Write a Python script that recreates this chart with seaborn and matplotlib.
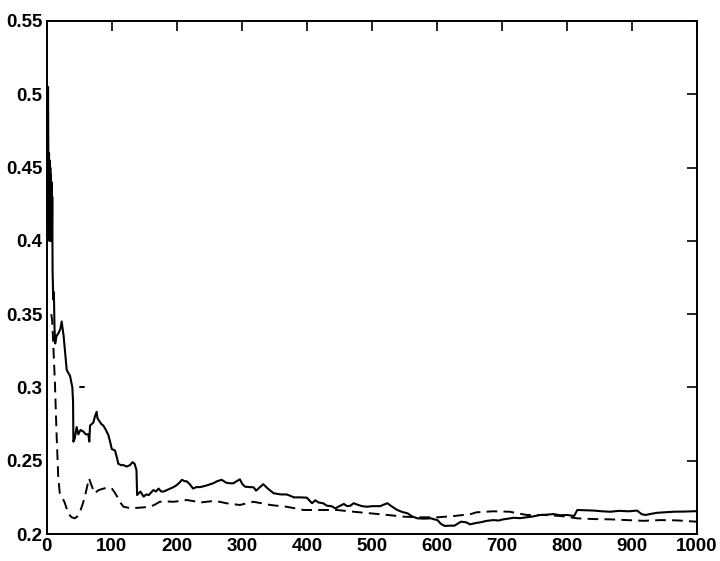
import numpy as np
import pandas as pd
import matplotlib
matplotlib.use("Agg")
import matplotlib.pyplot as plt
import seaborn as sns

# ---- data ----
solid_x = [1, 1.5, 2, 2.5, 3, 3.5, 4, 4.5, 5, 5.5, 6, 6.5, 7, 7.5, 8, 8.5, 9, 10, 11, 12, 13, 15,
           18, 21, 23, 26, 28, 30.7, 33, 35.8, 38,
           39.4, 40.5, 41, 43, 46, 48.6, 52, 56, 60, 64, 65.5, 66.6, 71.7, 74, 76.8, 78, 80.9, 84,
           87, 91, 94.8, 98, 100, 105, 108, 110, 114, 118, 123, 128, 132, 135, 138, 139, 144, 149,
           153, 157, 164, 168, 172, 176, 180, 185, 190, 195, 200, 204, 208, 212, 215, 220, 225,
           230, 236, 245, 256, 262, 269, 276, 282, 287, 292, 297, 301, 305, 312, 318, 322, 328,
           333, 340, 349, 360, 369, 375, 380, 390, 400, 408, 413, 418, 425, 431, 438, 444, 450,
           457, 462, 467, 472, 478, 485, 493, 500, 507, 513, 518, 524, 530, 539, 547, 555, 562,
           570, 580, 591, 596, 601, 606, 612, 620, 627, 637, 645, 651, 660, 667, 677, 687, 695,
           702, 710, 718, 728, 738, 748, 759, 769, 779, 790, 800, 811, 816, 828, 841, 854, 867,
           880, 895, 908, 915, 921, 930, 939, 950, 964, 980, 995, 1000]
solid_y = [0.42, 0.47, 0.505, 0.45, 0.41, 0.46, 0.40, 0.455, 0.405, 0.45, 0.40, 0.445, 0.41, 0.44,
           0.40, 0.43, 0.38, 0.36, 0.365, 0.34, 0.33, 0.335,
           0.337, 0.34, 0.345, 0.335, 0.325, 0.312, 0.31, 0.308, 0.303, 0.300, 0.29, 0.263, 0.265,
           0.273, 0.268, 0.271, 0.270, 0.268, 0.268, 0.263, 0.274, 0.276, 0.280, 0.2834, 0.279,
           0.277, 0.275, 0.274, 0.271, 0.2675, 0.262, 0.258, 0.257, 0.252, 0.248, 0.247, 0.247,
           0.246, 0.247, 0.249, 0.248, 0.2437, 0.2266, 0.229, 0.2255, 0.227, 0.2266, 0.230, 0.229,
           0.231, 0.229, 0.229, 0.230, 0.231, 0.232, 0.2334, 0.235, 0.237, 0.236, 0.236, 0.234,
           0.231, 0.232, 0.232, 0.233, 0.2346, 0.236, 0.237, 0.235, 0.2346, 0.2346, 0.236, 0.2373,
           0.234, 0.2323, 0.232, 0.2319, 0.2296, 0.232, 0.234, 0.231, 0.2278, 0.227, 0.227, 0.226,
           0.225, 0.225, 0.2248, 0.221, 0.223, 0.2215, 0.221, 0.2193, 0.219, 0.2175, 0.219, 0.2205,
           0.219, 0.2193, 0.221, 0.220, 0.219, 0.2186, 0.219, 0.219, 0.219, 0.220, 0.221, 0.219,
           0.2164, 0.215, 0.2141, 0.212, 0.2107, 0.2105, 0.2107, 0.210, 0.2095, 0.207, 0.2055,
           0.2057, 0.2057, 0.2084, 0.208, 0.2066, 0.2075, 0.208, 0.209, 0.2095, 0.2092, 0.210,
           0.2105, 0.2111, 0.2108, 0.2114, 0.212, 0.213, 0.2132, 0.2136, 0.2128, 0.213, 0.2123,
           0.2164, 0.2162, 0.216, 0.2155, 0.2152, 0.2158, 0.2155, 0.216, 0.2135, 0.213, 0.2138,
           0.2145, 0.2148, 0.2152, 0.2153, 0.2155, 0.2156]

dashed_x = [7, 8.5, 10, 12.6, 15, 17.7, 20, 22.8, 25, 28, 33, 38, 43, 47, 51, 55, 58.6, 62, 65,
            69, 73.6, 80, 89, 95, 100, 105, 110, 114, 118, 125, 131, 138, 144, 152, 159, 166, 174,
            185, 195, 205, 215, 225, 236, 246, 256, 266, 276, 285, 297, 308, 318, 330, 344, 356,
            369, 382, 395, 421, 446, 472, 498, 524, 550, 575, 601, 627, 652, 661, 687, 712, 738,
            764, 790, 816, 841, 867, 892, 918, 944, 969, 1000]
dashed_y = [0.35, 0.345, 0.33, 0.303, 0.27, 0.239, 0.228, 0.2255, 0.224, 0.221, 0.214,
            0.2115, 0.2107, 0.212, 0.215, 0.220, 0.2255, 0.232, 0.238, 0.233, 0.2278, 0.230,
            0.2312, 0.2315, 0.2312, 0.228, 0.2243, 0.221, 0.2186, 0.218, 0.2175, 0.2178, 0.218,
            0.2183, 0.2186, 0.220, 0.222, 0.2222, 0.222, 0.2225, 0.2232, 0.2225, 0.2215, 0.222,
            0.2225, 0.222, 0.221, 0.2205, 0.2198, 0.221, 0.222, 0.221, 0.2198, 0.2192, 0.2186,
            0.2175, 0.2164, 0.2164, 0.2164, 0.2152, 0.2141, 0.213, 0.2118, 0.2114, 0.2114, 0.2123,
            0.2136, 0.2148, 0.2155, 0.2152, 0.213, 0.213, 0.2123, 0.2107, 0.2102, 0.21, 0.2095,
            0.209, 0.2095, 0.2093, 0.2084]

stray_x = [51, 58]
stray_y = [0.300, 0.300]

x_ticks = [0, 100, 200, 300, 400, 500, 600, 700, 800, 900, 1000]
y_ticks = [0.2, 0.25, 0.3, 0.35, 0.4, 0.45, 0.5, 0.55]
y_labels = ["0.2", "0.25", "0.3", "0.35", "0.4", "0.45", "0.5", "0.55"]

sns.set_style("white")
plt.rcParams['font.family'] = ['Liberation Sans', 'DejaVu Sans']

fig = plt.figure(figsize=(7.2, 5.61), dpi=100)
ax = fig.add_axes([0.0649, 0.0481, 0.9031, 0.9145])

df_s = pd.DataFrame({"x": solid_x, "y": solid_y})
df_d = pd.DataFrame({"x": dashed_x, "y": dashed_y})
df_t = pd.DataFrame({"x": stray_x, "y": stray_y})

sns.lineplot(data=df_s, x="x", y="y", ax=ax, color="black", linewidth=1.5,
             estimator=None, sort=False)
sns.lineplot(data=df_d, x="x", y="y", ax=ax, color="black", linewidth=1.4,
             estimator=None, sort=False, dashes=False)
ax.lines[-1].set_dashes([5.5, 3.2])
sns.lineplot(data=df_t, x="x", y="y", ax=ax, color="black", linewidth=1.4,
             estimator=None, sort=False)

ax.set_xlim(0, 1000)
ax.set_ylim(0.2, 0.55)
ax.set_xticks(x_ticks)
ax.set_xticklabels([str(t) for t in x_ticks])
ax.set_yticks(y_ticks)
ax.set_yticklabels(y_labels)
ax.set_xlabel("")
ax.set_ylabel("")
ax.tick_params(direction="in", length=7, width=1.2, top=True, right=True,
               labelsize=13.5, pad=3, colors="black")
for lab in ax.get_xticklabels() + ax.get_yticklabels():
    lab.set_fontweight("bold")
for sp in ax.spines.values():
    sp.set_visible(True)
    sp.set_color("black")
    sp.set_linewidth(1.4)

fig.savefig("out.png", dpi=100, facecolor="white")
